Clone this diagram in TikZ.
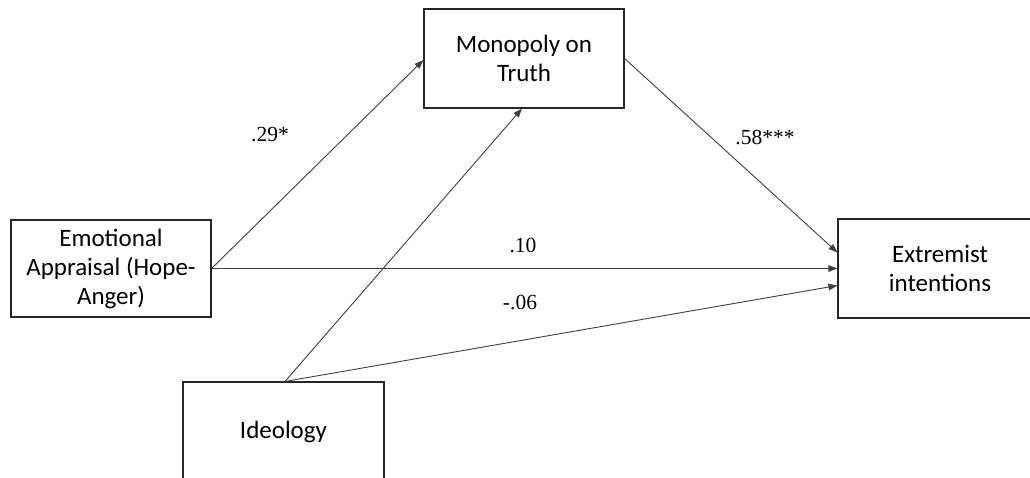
\documentclass[tikz,border=0pt]{standalone}
\usepackage{fontspec}
\setmainfont{Carlito}
\newfontfamily\labfont{Liberation Serif}
\usetikzlibrary{arrows.meta}
\begin{document}
\begin{tikzpicture}[x=1pt,y=-1pt,
  boxnode/.style={draw=black!85,line width=1.1pt,fill=white,inner sep=0pt,align=center,
    font=\fontsize{25}{29}\selectfont},
  conn/.style={draw=black!75,line width=0.9pt,-{Triangle[length=9pt,width=6.5pt]}},
  coef/.style={font=\labfont\fontsize{21.5}{24}\selectfont,inner sep=0pt}]
\useasboundingbox (0,0) rectangle (1030,477);
\clip (0,0) rectangle (1030,477);
\fill[white] (0,0) rectangle (1030,477);
\node[boxnode,minimum width=200pt,minimum height=97pt] (emo) at (111,268.5) {Emotional\\Appraisal (Hope-\\Anger)};
\node[boxnode,minimum width=200pt,minimum height=99pt] (mono) at (524,58.5) {Monopoly on\\Truth};
\node[boxnode,minimum width=204pt,minimum height=99pt] (ext) at (940,268.5) {Extremist\\intentions};
\node[boxnode,minimum width=201pt,minimum height=100pt] (ideo) at (283.5,432) {Ideology};
\draw[conn] (emo.east) -- ([yshift=-1.5pt]mono.west);
\draw[conn] (emo.east) -- (ext.west);
\draw[conn] ([xshift=1.5pt]ideo.north) -- ([xshift=-2pt]mono.south);
\draw[conn] ([xshift=1.5pt]ideo.north) -- ([yshift=-17pt]ext.west);
\draw[conn] (mono.east) -- ([yshift=16pt]ext.west);
\node[coef] (c1) at (270,135) {.29*};
\node[coef] (c2) at (765,137) {.58***};
\node[coef] (c3) at (523,245) {.10};
\node[coef] (c4) at (520,302) {-.06};
\end{tikzpicture}
\end{document}
